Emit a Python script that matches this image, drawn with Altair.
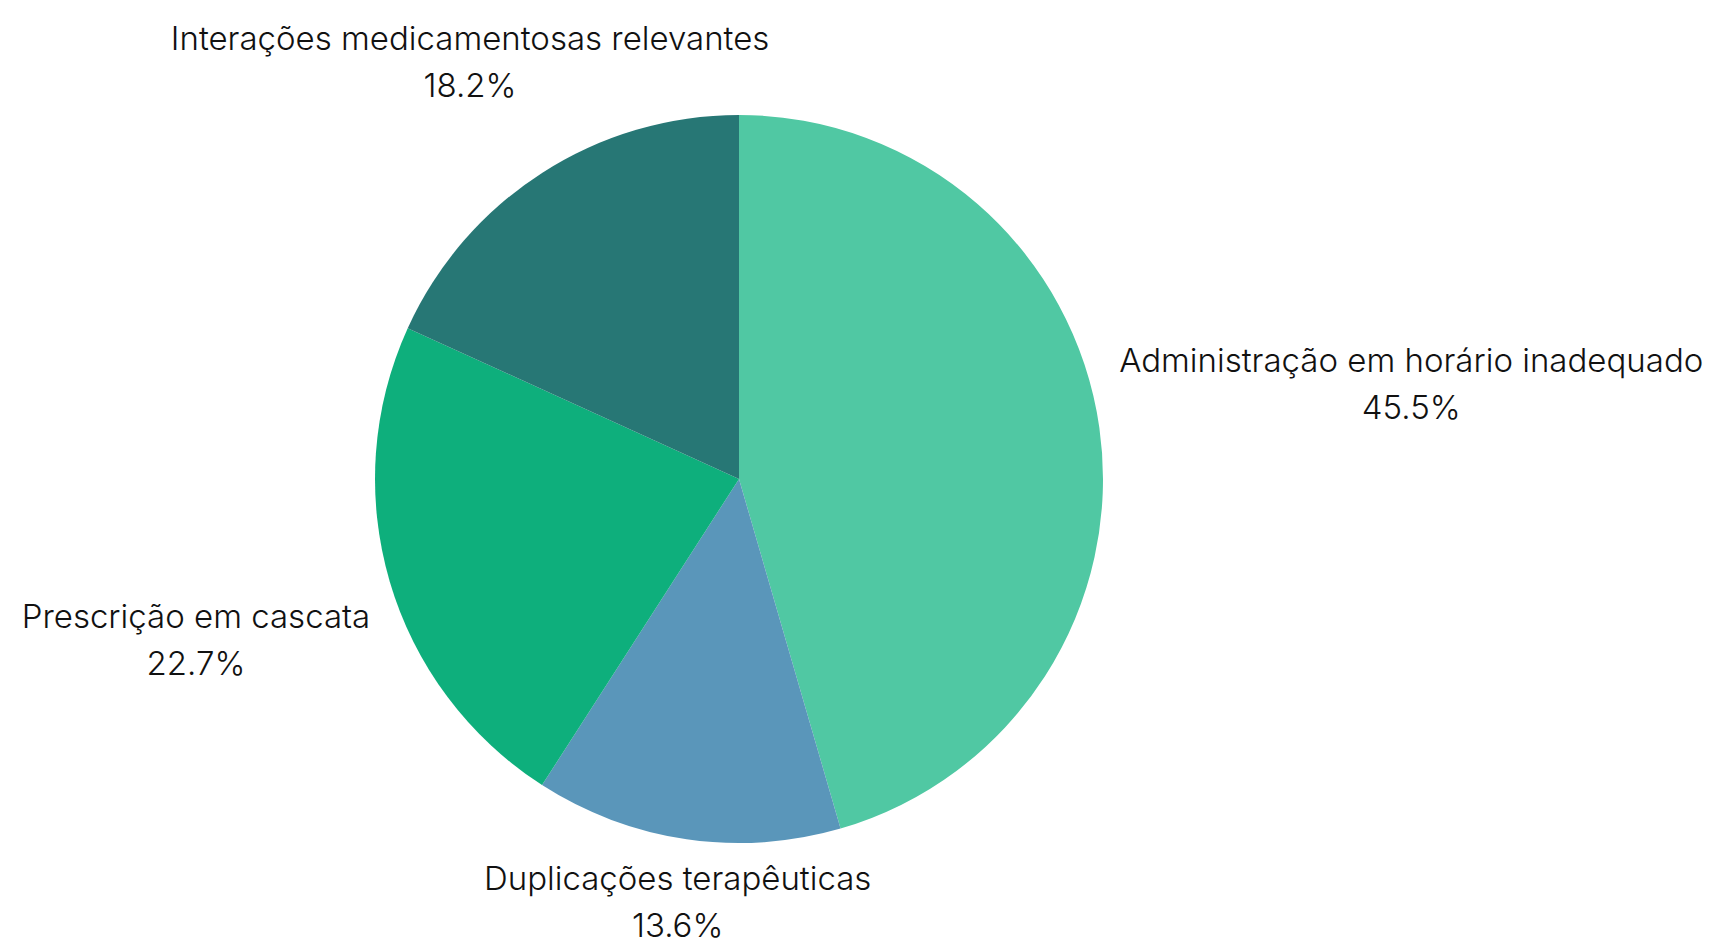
import altair as alt
import pandas as pd
import math

categories = [
    "Administração em horário inadequado",
    "Duplicações terapêuticas",
    "Prescrição em cascata",
    "Interações medicamentosas relevantes",
]
percentages = [45.5, 13.6, 22.7, 18.2]
colors = ["#50C8A3", "#5A96BA", "#0EAF7C", "#277775"]

df = pd.DataFrame({
    "category": categories,
    "pct": percentages,
    "idx": list(range(len(categories))),
})
df["label"] = [f"{c}\n{p:.1f}%" for c, p in zip(categories, percentages)]

CX, CY = 731, 471
R = 364
label_r = {
    categories[0]: 679,
    categories[1]: 426,
    categories[2]: 566,
    categories[3]: 497,
}
r_expr = " : ".join(
    [f"datum.category === '{k}' ? {v}" for k, v in label_r.items()] + ["500"]
)

pie = alt.Chart(df).mark_arc(outerRadius=R, stroke=None).encode(
    theta=alt.Theta("pct:Q", stack=True),
    order=alt.Order("idx:Q"),
    color=alt.Color("category:N", scale=alt.Scale(domain=categories, range=colors), legend=None),
    x=alt.value(CX),
    y=alt.value(CY),
)

labels = alt.Chart(df).transform_window(
    cum="sum(pct)", sort=[alt.SortField("idx")]
).transform_joinaggregate(
    total="sum(pct)"
).transform_calculate(
    frac="(datum.cum - datum.pct / 2) / datum.total",
    lr=r_expr,
).mark_text(
    font="Inter",
    fontSize=33,
    fontWeight=300,
    lineBreak="\n",
    lineHeight=47,
    align="center",
    baseline="middle",
    dy=-21,
    color="#111111",
).encode(
    theta=alt.Theta("frac:Q", stack=False, scale=alt.Scale(domain=[0, 1], range=[0, 2 * math.pi])),
    radius=alt.Radius("lr:Q", scale=None),
    text="label:N",
    x=alt.value(CX),
    y=alt.value(CY),
)

chart = alt.layer(pie, labels).resolve_scale(theta="independent").properties(
    width=1696, height=932, padding=0, autosize="none"
).configure_view(stroke=None)

chart.save("out.html", embed_options={"renderer": "svg", "actions": False})
